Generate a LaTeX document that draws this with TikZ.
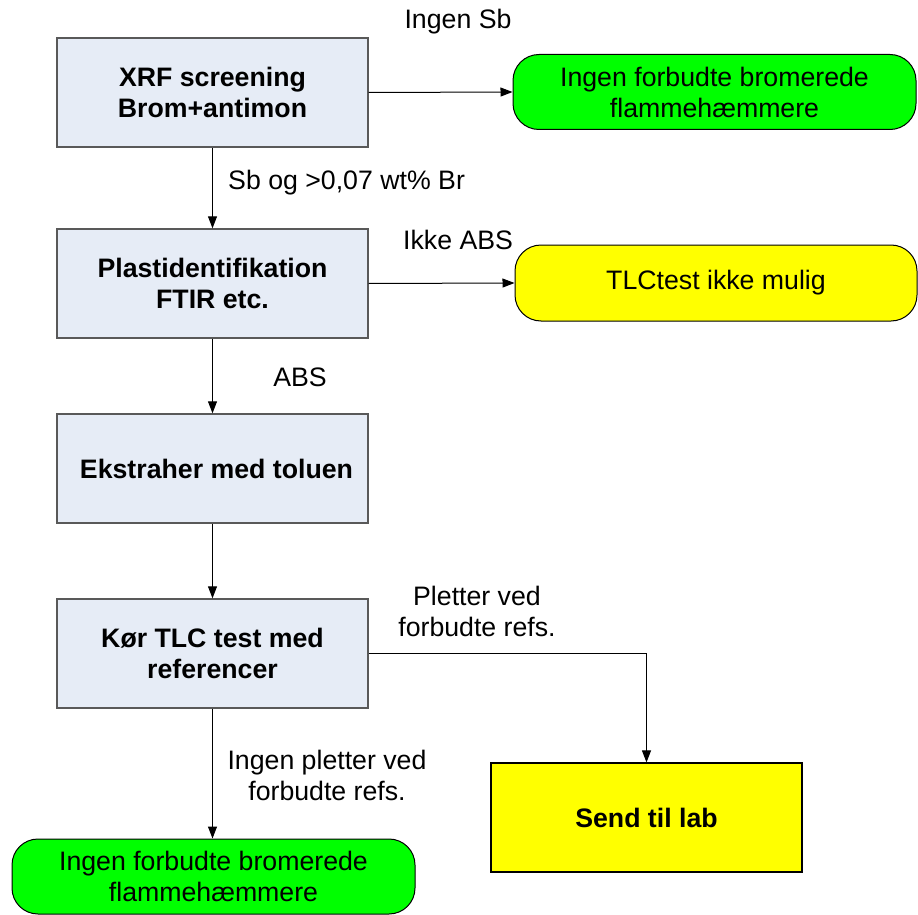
\documentclass[tikz,border=0pt]{standalone}
\usepackage{fontspec}
\setmainfont{Liberation Sans}
\usetikzlibrary{arrows.meta}
\definecolor{boxblue}{HTML}{E6ECF6}
\definecolor{okgreen}{HTML}{00FF00}
\definecolor{warnyellow}{HTML}{FFFF00}
\tikzset{
  txt/.style={font=\fontsize{26.7}{31}\selectfont, align=center, inner sep=0pt},
  stepbox/.style={txt, font=\fontsize{26.7}{31}\selectfont\bfseries, draw=black!65,
    line width=1.4pt, fill=boxblue, minimum width=311pt, minimum height=109pt},
  endgreen/.style={txt, draw=black, line width=1pt, fill=okgreen,
    rounded corners=26pt, minimum width=403pt, minimum height=75pt},
  endyellow/.style={txt, draw=black, line width=1pt, fill=warnyellow,
    rounded corners=26pt, minimum width=402pt, minimum height=76pt},
  labbox/.style={txt, font=\fontsize{26.7}{31}\selectfont\bfseries, draw=black,
    line width=1.2pt, fill=warnyellow, minimum width=311pt, minimum height=109pt},
  lbl/.style={txt},
  flow/.style={line width=1pt, -{Triangle[length=12pt,width=9pt]}}
}
\begin{document}
\begin{tikzpicture}[x=1pt, y=-1pt]
  \useasboundingbox (0,0) rectangle (918,915);

  % process steps
  \node[stepbox] (xrf)   at (212.5,92.5)  {XRF screening\\Brom+antimon};
  \node[stepbox] (plast) at (212.5,283.5) {Plastidentifikation\\FTIR etc.};
  \node[stepbox] (ekst)  at (212.5,468.5) {\hspace*{8pt}Ekstraher med toluen};
  \node[stepbox] (tlc)   at (212.5,653.5) {Kør TLC test med\\referencer};

  % outcomes
  \node[endgreen]  (none1) at (714.5,92)  {Ingen forbudte bromerede\\flammehæmmere};
  \node[endyellow] (notlc) at (716,283)   {TLCtest ikke mulig};
  \node[labbox]    (lab)   at (646.5,817.5) {Send til lab};
  \node[endgreen]  (none2) at (213.5,876.5) {Ingen forbudte bromerede\\flammehæmmere};

  % connectors
  \draw[flow] (xrf.east) -- (none1.west);
  \draw[flow] (xrf.south) -- (plast.north);
  \draw[flow] (plast.east) -- (notlc.west);
  \draw[flow] (plast.south) -- (ekst.north);
  \draw[flow] (ekst.south) -- (tlc.north);
  \draw[flow] (tlc.east) -| (lab.north);
  \draw[flow] (tlc.south) -- (tlc.south |- none2.north);

  % connector labels
  \node[lbl] (l1) at (458,22)  {Ingen Sb};
  \node[lbl, anchor=west] (l2) at (228,183) {Sb og >0,07 wt\% Br};
  \node[lbl, anchor=west] (l3) at (403,240) {Ikke ABS};
  \node[lbl] (l4) at (300,377) {ABS};
  \node[lbl] (l5) at (477,611) {Pletter ved\\forbudte refs.};
  \node[lbl] (l6) at (327,775) {Ingen pletter ved\\forbudte refs.};
\end{tikzpicture}
\end{document}
